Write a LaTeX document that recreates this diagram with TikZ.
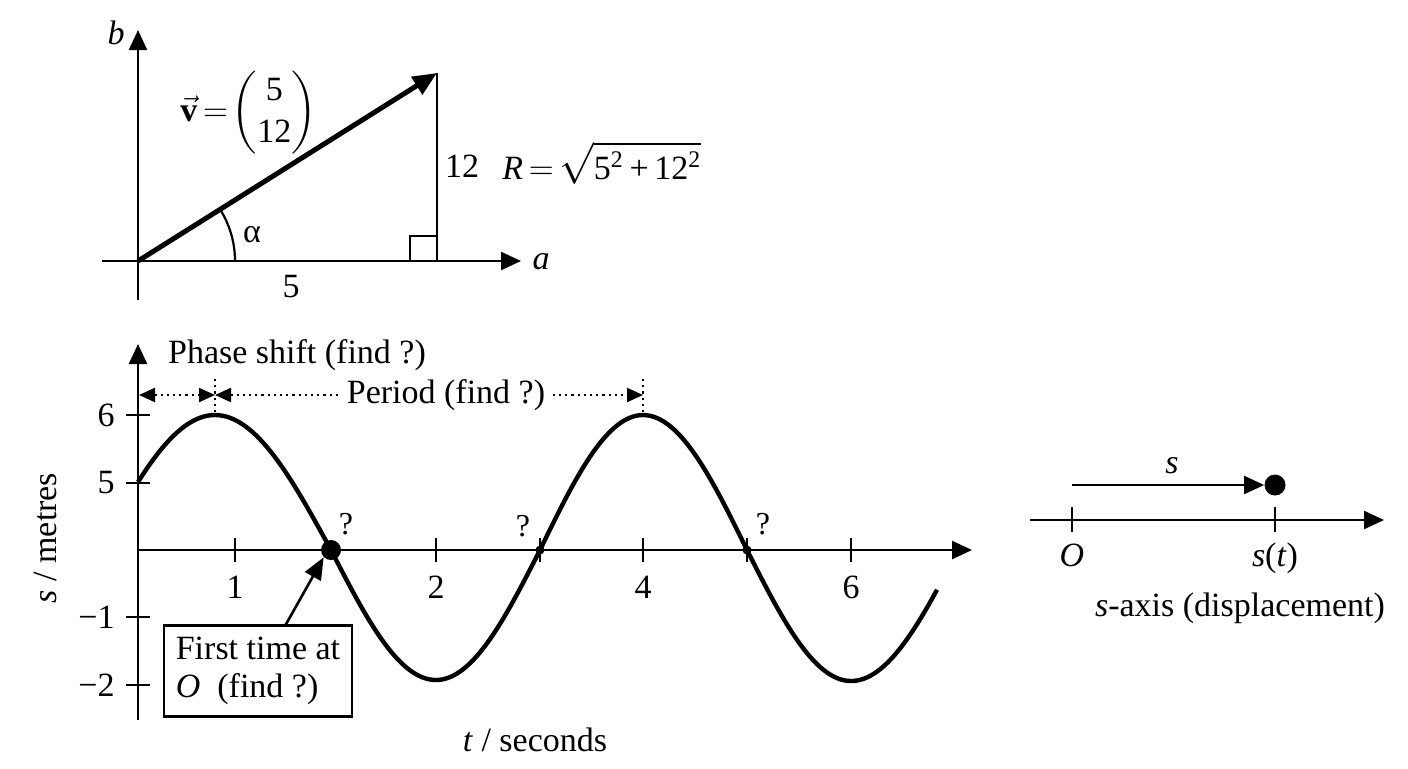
\documentclass[tikz,border=0pt]{standalone}
\usepackage{amsmath}
\usepackage{fontspec}
\setmainfont{Liberation Serif}
\usetikzlibrary{arrows.meta}
\begin{document}
\begin{tikzpicture}[x=0.5pt,y=-0.5pt,
  every node/.style={font=\fontsize{17}{19}\selectfont, inner sep=1pt},
  qlbl/.style={font=\fontsize{16}{18}\selectfont},
  axis/.style={line width=1.2pt, -{Triangle[length=10pt,width=9pt]}},
  thinline/.style={line width=1.1pt},
  tickline/.style={line width=1.2pt},
  curve/.style={line width=2.2pt},
  vecarrow/.style={line width=2.5pt, -{Triangle[length=12pt,width=10pt]}},
  dotv/.style={line width=1.1pt, dotted},
  dimarrow/.style={line width=1.1pt, dotted, {Triangle[length=8pt,width=7pt]}-{Triangle[length=8pt,width=7pt]}},
  ptr/.style={line width=1.3pt, -{Triangle[length=11pt,width=9pt]}},
  bigdot/.style={circle, fill=black, inner sep=0pt, minimum size=10pt},
  smalldot/.style={circle, fill=black, inner sep=0pt, minimum size=4.5pt},
]
\useasboundingbox (0,0) rectangle (1408,768);

%================ TOP: vector diagram =================
\coordinate (O1) at (138,261);
\coordinate (bBot) at (138,300);
\coordinate (bTop) at (138,30);
\coordinate (aLeft) at (102,261);
\coordinate (aRight) at (521,261);
\coordinate (P) at (437,73);
\coordinate (F) at (437,261);
\coordinate (sqA) at (410,261);
\coordinate (sqB) at (437,236);
\coordinate (arcS) at (235,261);

\draw[axis] (bBot) -- (bTop);
\draw[axis] (aLeft) -- (aRight);
\node (lb) at (116,33) {\textit{b}};
\node (la) at (541,262) {\textit{a}};
\draw[vecarrow] (O1) -- (P);
\draw[thinline] (P) -- (F);
\draw[thinline] (sqA) |- (sqB);
\draw[thinline] (arcS) arc[start angle=0, end angle=32.3, radius=48.5pt];
\node (alpha) at (252,235) {α};
\node (five) at (291,287) {5};
\node (twelve) at (462,166) {12};
\node[anchor=west, inner sep=0pt] (R) at (502,163)
  {\textit{R}\,$=$\,{\fontsize{21}{23}\selectfont$\sqrt{\mbox{\fontsize{17}{19}\selectfont 5\textsuperscript{2}\,+\,12\textsuperscript{2}}}$}};
\node[anchor=west, inner sep=0pt] (vec) at (180,113)
  {$\vec{\textbf{v}}\mskip-2mu=\mskip-3mu\renewcommand{\arraystretch}{1.12}\left(\begin{matrix}\mbox{5}\\ \mbox{12}\end{matrix}\right)$};

%================ BOTTOM: graph =================
\coordinate (O2) at (138,550);
\coordinate (yBot) at (138,720);
\coordinate (yTop) at (138,344);
\coordinate (xEnd) at (972,550);
\draw[axis] (yBot) -- (yTop);
\draw[axis] (O2) -- (xEnd);

% y ticks
\foreach \yy/\lab/\nm in {415/6/ysix, 483/5/yfive, 617/−1/ymone, 685/−2/ymtwo}{
  \draw[tickline] (126,\yy) -- (150,\yy);
  \node[anchor=east] (\nm) at (117,\yy) {\lab};
}
% x ticks
\foreach \xx in {235, 436, 540, 643, 747, 851}{
  \draw[tickline] (\xx,538) -- (\xx,562);
}
\node (tl1) at (235,587) {1};
\node (tl2) at (436,587) {2};
\node (tl4) at (643,587) {4};
\node (tl6) at (851,587) {6};

% axis titles
\node[rotate=90] (ylab) at (45,538) {\textit{s} / metres};
\node (xlab) at (535,740) {\textit{t} / seconds};

% curve
\draw[curve] plot[domain=138:215, samples=40] (\x,{550-135*cos(90*(\x-215)/116)})
  cos (331,550) sin (436,680) cos (540,550) sin (643,415) cos (747,550) sin (851,681)
  -- plot[domain=851:937, samples=40] (\x,{550+131*cos(90*(\x-851)/107)});

% crossing points
\node[bigdot] (c1) at (331,550) {};
\node[smalldot] (c2) at (540,550) {};
\node[smalldot] (c3) at (747,550) {};
\node[qlbl] (q1) at (346,524) {?};
\node[qlbl] (q2) at (523,526) {?};
\node[qlbl] (q3) at (763,524) {?};

% phase shift / period
\coordinate (pk1) at (215,413);
\coordinate (pk1t) at (215,379);
\coordinate (pk2) at (643,413);
\coordinate (pk2t) at (643,379);
\coordinate (dL) at (139,395);
\coordinate (dM) at (215,395);
\coordinate (dR) at (643,395);
\draw[dotv] (pk1t) -- (pk1);
\draw[dotv] (pk2t) -- (pk2);
\draw[dimarrow] (dL) -- (dM);
\draw[dimarrow] (dM) -- (dR);
\node[fill=white, inner xsep=4pt] (period) at (446,395) {Period (find ?)};
\node (phase) at (297,355) {Phase shift (find ?)};

% first time box
\node[draw, line width=1.2pt, inner xsep=5pt, inner ysep=0pt, align=left,
      minimum height=45.5pt, minimum width=94pt, font=\fontsize{17}{19}\selectfont] (box) at (258,671)
      {First time at\\ \textit{O}\ \ (find ?)\hfill\null};
\coordinate (bxA) at (285,626);
\draw[ptr] (bxA) -- (c1.south west);

%================ RIGHT: s-axis =================
\coordinate (sL) at (1030,520);
\coordinate (sR) at (1384,520);
\coordinate (sO) at (1072,485);
\draw[axis] (sL) -- (sR);
\draw[tickline] (1072,507) -- (1072,532);
\draw[tickline] (1275,507) -- (1275,532);
\node[bigdot, minimum size=10.5pt] (sdot) at (1275,485) {};
\draw[line width=1.2pt, -{Triangle[length=10pt,width=9pt]}] (sO) -- (sdot.west);
\node (slab) at (1172,466) {\textit{s}};
\node[anchor=base] (Olab) at (1072,566) {\textit{O}};
\node[anchor=base] (stlab) at (1275,566) {\textit{s}(\textit{t})};
\node (saxis) at (1240,608) {\textit{s}-axis (displacement)};
\end{tikzpicture}
\end{document}
